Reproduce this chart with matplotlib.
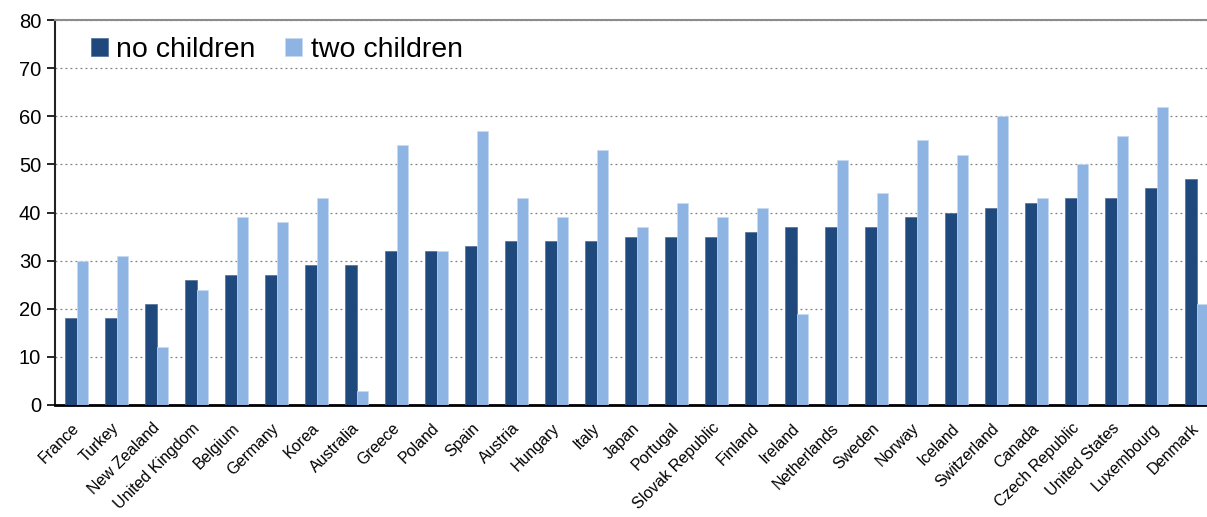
import matplotlib
matplotlib.use("Agg")
import matplotlib.pyplot as plt
import numpy as np

countries = ["France", "Turkey", "New Zealand", "United Kingdom", "Belgium", "Germany",
             "Korea", "Australia", "Greece", "Poland", "Spain", "Austria", "Hungary",
             "Italy", "Japan", "Portugal", "Slovak Republic", "Finland", "Ireland",
             "Netherlands", "Sweden", "Norway", "Iceland", "Switzerland", "Canada",
             "Czech Republic", "United States", "Luxembourg", "Denmark"]
no_children = [18, 18, 21, 26, 27, 27, 29, 29, 32, 32, 33, 34, 34, 34, 35, 35, 35, 36,
               37, 37, 37, 39, 40, 41, 42, 43, 43, 45, 47]
two_children = [30, 31, 12, 24, 39, 38, 43, 3, 54, 32, 57, 43, 39, 53, 37, 42, 39, 41,
                19, 51, 44, 55, 52, 60, 43, 50, 56, 62, 21]
y_ticks = [0, 10, 20, 30, 40, 50, 60, 70, 80]

plt.rcParams['font.family'] = ['Liberation Sans', 'DejaVu Sans']

fig = plt.figure(figsize=(12.07, 5.17), dpi=100)
ax = fig.add_axes([55/1207, 112/517, 1 - 55/1207, 385/517])

x = np.arange(len(countries))
w = 0.29
ax.bar(x - w/2, no_children, width=w, color="#1F497D", edgecolor="#4F6F99",
       linewidth=0.5, label="no children", zorder=3)
ax.bar(x + w/2, two_children, width=w, color="#8EB4E3", edgecolor="#C6DAF2",
       linewidth=0.5, label="two children", zorder=3)

ax.set_xlim(-0.545, 28.255)
ax.set_ylim(0, 80)
ax.set_yticks(y_ticks)
ax.set_yticklabels([str(v) for v in y_ticks], fontsize=14.5)
ax.yaxis.grid(True, linestyle=(0, (1.5, 2.5)), color="#808080", linewidth=0.9, zorder=0)

ax.set_xticks(x)
ax.set_xticklabels(countries, rotation=45, ha='right', va='center',
                   rotation_mode='anchor', fontsize=11.5)
ax.tick_params(axis='x', length=0, pad=15)
ax.tick_params(axis='y', direction='out', length=6, width=1.2, color='black', pad=4)

ax.spines['right'].set_visible(False)
ax.spines['top'].set_color('#8c8c8c')
ax.spines['top'].set_linewidth(1.5)
ax.spines['left'].set_color('#222222')
ax.spines['left'].set_linewidth(1.5)
ax.spines['bottom'].set_color('black')
ax.spines['bottom'].set_linewidth(2)

ax.legend(loc='upper left', ncol=2, frameon=False, fontsize=20.5,
          handlelength=0.6, handleheight=0.6, handletextpad=0.3,
          columnspacing=1.05, bbox_to_anchor=(0.016, 1.0), borderaxespad=0.2)

fig.savefig("out.png", dpi=100)
